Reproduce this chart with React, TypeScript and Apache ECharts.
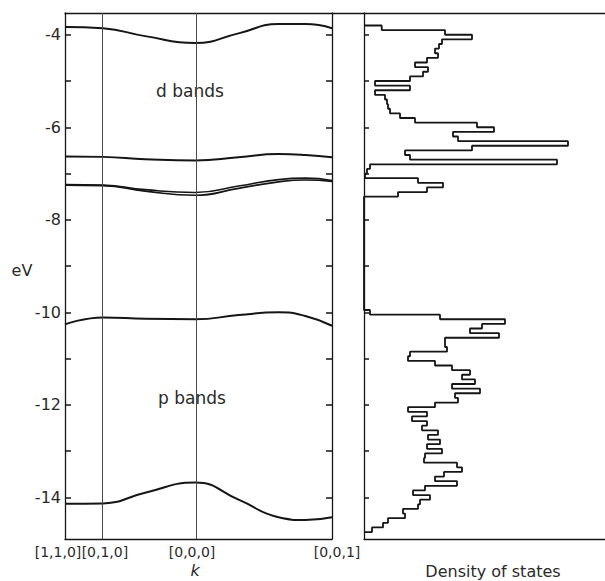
import React, { useEffect, useRef } from "react";
import * as echarts from "echarts";

// k-path positions (normalised) and their labels
const kTicks = [0, 0.142, 0.487, 1.0];
const kTickLabels = ["[1,1,0]", "[0,1,0]", "[0,0,0]", "[0,0,1]"];
// sample points along k used for the band curves
const kPoints = [0, 0.142, 0.3, 0.487, 0.65, 0.8, 0.9, 1.0];

// band energies (eV) at kPoints
const bandD1 = [-3.83, -3.86, -4.03, -4.18, -3.97, -3.77, -3.77, -3.86];
const bandD2 = [-6.63, -6.64, -6.69, -6.72, -6.65, -6.58, -6.6, -6.65];
const bandD3a = [-7.24, -7.25, -7.35, -7.41, -7.27, -7.13, -7.1, -7.15];
const bandD3b = [-7.25, -7.26, -7.38, -7.47, -7.32, -7.18, -7.14, -7.17];
const bandP1 = [-10.26, -10.11, -10.14, -10.15, -10.06, -10.0, -10.08, -10.29];
const bandP2 = [-14.14, -14.13, -13.9, -13.68, -14.05, -14.43, -14.49, -14.43];

// energy axis
const energyMin = -14.9;
const energyMax = -3.53;
const energyTicks = [-14, -13, -12, -11, -10, -9, -8, -7, -6, -5, -4];
const energyLabels = [-14, -12, -10, -8, -6, -4];

// density of states histogram (arbitrary units), 0.1 eV bins
const dosBinWidth = 0.1;
const dosUpperTop = -3.8;
const dosUpper = [
  17.7, 81, 108, 78, 75, 71, 74, 63, 51, 64, 59, 46, 11, 46, 11, 21, 23, 24, 26,
  36, 51, 113, 130, 89, 94, 204, 108, 41, 46, 193, 6, 3, 1, 54, 79, 63, 34,
];
const dosLowerTop = -9.95;
const dosLower = [
  6, 76, 141, 118, 106, 135, 81, 81, 83, 46, 44, 71, 88, 106, 98, 111, 88, 116,
  91, 94, 71, 44, 63, 48, 63, 58, 74, 64, 76, 63, 78, 61, 60, 93, 98, 80, 71, 93,
  61, 49, 66, 56, 54, 39, 41, 24, 19, 8,
];
const dosMax = 241;

function dosStepPoints(): number[][] {
  const pts: number[][] = [[0, dosUpperTop]];
  dosUpper.forEach((v, i) => {
    const a = dosUpperTop - i * dosBinWidth;
    pts.push([v, a], [v, a - dosBinWidth]);
  });
  pts.push([0, dosUpperTop - dosUpper.length * dosBinWidth]);
  pts.push([0, dosLowerTop]);
  dosLower.forEach((v, i) => {
    const a = dosLowerTop - i * dosBinWidth;
    pts.push([v, a], [v, a - dosBinWidth]);
  });
  pts.push([0, dosLowerTop - dosLower.length * dosBinWidth]);
  return pts;
}

const FONT = "DejaVu Sans";
const INK = "#151515";
const TXT = "#2a2a2a";

export default function App() {
  const ref = useRef<HTMLDivElement>(null);
  useEffect(() => {
    if (!ref.current) return;
    const chart = echarts.init(ref.current, undefined, { renderer: "svg" });

    const bandSeries = (data: number[], width = 2) => ({
      type: "line",
      xAxisIndex: 0,
      yAxisIndex: 0,
      data: kPoints.map((k, i) => [k, data[i]]),
      smooth: 0.5,
      symbol: "none",
      lineStyle: { color: INK, width },
      silent: true,
    });

    const richPad: Record<string, any> = {};
    const pads = [
      [0, 14, 0, 0],
      [0, 0, 0, 4],
      [0, 6, 0, 0],
      [0, 0, 0, 10],
    ];
    pads.forEach((p, i) => {
      richPad["l" + i] = {
        padding: p,
        fontSize: 14,
        fontFamily: FONT,
        color: TXT,
      };
    });

    const axisLine = { show: true, lineStyle: { color: INK, width: 1.3 } };
    const insideTicks = {
      show: true,
      inside: true,
      length: 6,
      customValues: energyTicks,
      lineStyle: { color: INK, width: 1.5 },
    };

    const option: any = {
      animation: false,
      backgroundColor: "#ffffff",
      grid: [
        { left: 65, top: 13, width: 267, height: 526 },
        { left: 364, top: 13, right: 0, height: 526 },
        { left: 65, top: 13, right: 0, height: 526 },
      ],
      xAxis: [
        {
          gridIndex: 0,
          type: "value",
          min: 0,
          max: 1,
          position: "bottom",
          axisLine,
          axisTick: { show: false },
          splitLine: { show: false },
          axisLabel: {
            customValues: kTicks,
            margin: 6,
            formatter: (v: number) => {
              let idx = 0;
              let best = Infinity;
              kTicks.forEach((t, i) => {
                if (Math.abs(t - v) < best) {
                  best = Math.abs(t - v);
                  idx = i;
                }
              });
              return `{l${idx}|${kTickLabels[idx]}}`;
            },
            rich: richPad,
          },
        },
        {
          gridIndex: 1,
          type: "value",
          min: 0,
          max: dosMax,
          axisLine,
          axisTick: { show: false },
          axisLabel: { show: false },
          splitLine: { show: false },
        },
        {
          gridIndex: 2,
          type: "value",
          min: 0,
          max: 1,
          position: "top",
          axisLine,
          axisTick: { show: false },
          axisLabel: { show: false },
          splitLine: { show: false },
        },
      ],
      yAxis: [
        {
          gridIndex: 0,
          type: "value",
          min: energyMin,
          max: energyMax,
          position: "left",
          axisLine,
          axisTick: insideTicks,
          splitLine: { show: false },
          axisLabel: {
            customValues: energyLabels,
            margin: 4,
            fontSize: 16,
            fontFamily: FONT,
            color: TXT,
            formatter: (v: number) => String(Math.round(v)),
          },
        },
        {
          gridIndex: 0,
          type: "value",
          min: energyMin,
          max: energyMax,
          position: "right",
          axisLine,
          axisTick: insideTicks,
          axisLabel: { show: false },
          splitLine: { show: false },
        },
        {
          gridIndex: 1,
          type: "value",
          min: energyMin,
          max: energyMax,
          position: "left",
          axisLine,
          axisTick: { ...insideTicks, length: 5 },
          axisLabel: { show: false },
          splitLine: { show: false },
        },
        {
          gridIndex: 2,
          type: "value",
          min: energyMin,
          max: energyMax,
          show: false,
        },
      ],
      series: [
        {
          ...bandSeries(bandD1),
          markLine: {
            silent: true,
            symbol: ["none", "none"],
            label: { show: false },
            lineStyle: { color: "#4a4a4a", width: 1, type: "solid" },
            data: [{ xAxis: kTicks[1] }, { xAxis: kTicks[2] }],
          },
        },
        bandSeries(bandD2),
        bandSeries(bandD3a, 1.7),
        bandSeries(bandD3b, 1.7),
        bandSeries(bandP1),
        bandSeries(bandP2),
        {
          type: "line",
          xAxisIndex: 1,
          yAxisIndex: 2,
          data: dosStepPoints(),
          symbol: "none",
          lineStyle: { color: INK, width: 1.8 },
          silent: true,
        },
      ],
      graphic: [
        {
          type: "text",
          x: 190,
          y: 91,
          style: {
            text: "d bands",
            fontSize: 17,
            fontFamily: FONT,
            fill: TXT,
            align: "center",
            verticalAlign: "middle",
          },
        },
        {
          type: "text",
          x: 192,
          y: 398,
          style: {
            text: "p bands",
            fontSize: 17,
            fontFamily: FONT,
            fill: TXT,
            align: "center",
            verticalAlign: "middle",
          },
        },
        {
          type: "text",
          x: 22,
          y: 270,
          style: {
            text: "eV",
            fontSize: 16,
            fontFamily: FONT,
            fill: TXT,
            align: "center",
            verticalAlign: "middle",
          },
        },
        {
          type: "text",
          x: 195,
          y: 570,
          style: {
            text: "k",
            fontSize: 16,
            fontStyle: "italic",
            fontFamily: FONT,
            fill: TXT,
            align: "center",
            verticalAlign: "middle",
          },
        },
        {
          type: "text",
          x: 493,
          y: 571,
          style: {
            text: "Density of states",
            fontSize: 16,
            fontFamily: FONT,
            fill: TXT,
            align: "center",
            verticalAlign: "middle",
          },
        },
      ],
    };

    chart.setOption(option);
    return () => chart.dispose();
  }, []);

  return (
    <div
      ref={ref}
      style={{
        position: "fixed",
        left: 0,
        top: 0,
        width: 605,
        height: 581,
        background: "#fff",
      }}
    />
  );
}
